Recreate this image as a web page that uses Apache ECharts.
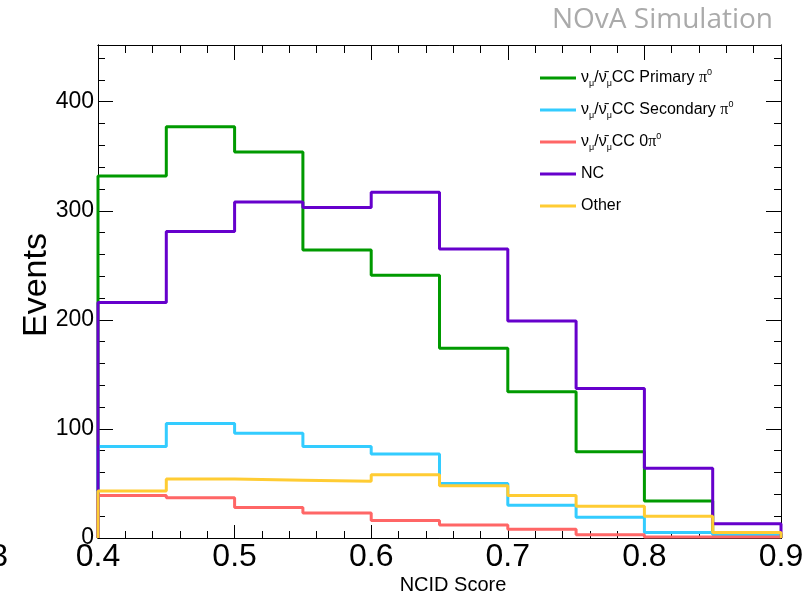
<!DOCTYPE html>
<html>
<head>
<meta charset="utf-8">
<script src="https://cdn.jsdelivr.net/npm/echarts@6/dist/echarts.min.js"></script>
<style>
  html, body { margin: 0; padding: 0; background: #fff; }
  #chart { width: 809px; height: 599px; }
</style>
</head>
<body>
<div id="chart"></div>
<script>
// Bin edges of the NCID score histogram (10 bins of width 0.05)
const binEdges = [0.40, 0.45, 0.50, 0.55, 0.60, 0.65, 0.70, 0.75, 0.80, 0.85, 0.90];

// Event counts per bin
const ccPrimaryPi0   = [332, 377, 354, 264, 241, 174, 134, 79, 34, 4];
const ccSecondaryPi0 = [84, 105, 96, 84, 77, 50, 30, 19, 5, 3];
const ccZeroPi0      = [39, 37, 28, 23, 16, 12, 8, 3, 1, 1];
const ncEvents       = [216, 281, 308, 303, 317, 265, 199, 137, 64, 13];
const otherEvents    = [43, 54, 53, 52, 58, 48, 39, 29, 20, 5];

const seriesNames  = ['primary', 'secondary', 'zero', 'nc', 'other'];
const seriesColors = ['#009a00', '#33ccff', '#ff6666', '#6600cc', '#ffcc33'];
const seriesValues = [ccPrimaryPi0, ccSecondaryPi0, ccZeroPi0, ncEvents, otherEvents];

// Axis ranges and tick spacing
const xMin = 0.4, xMax = 0.9, xMajor = 0.1, xMinor = 0.02;
const yMin = 0, yMax = 452, yMajor = 100, yMinor = 20;

const FONT = 'Liberation Sans';

// Legend labels with sub/superscripts (every row carries a sub token so rows share one height)
const legendLabels = {
  primary:   '{a|\u03bd}{s|\u03bc}{a|/\u03bd\u0304}{s|\u03bc}{a|CC Primary }{p|\u03c0}{u|0}',
  secondary: '{a|\u03bd}{s|\u03bc}{a|/\u03bd\u0304}{s|\u03bc}{a|CC Secondary }{p|\u03c0}{u|0}',
  zero:      '{a|\u03bd}{s|\u03bc}{a|/\u03bd\u0304}{s|\u03bc}{a|CC 0}{p|\u03c0}{u|0}',
  nc:        '{a|NC}{s| }{u| }',
  other:     '{a|Other}{s| }{u| }'
};

// Histogram outline: start and end at zero, one horizontal step per bin
function histPoints(values) {
  const pts = [[binEdges[0], 0]];
  values.forEach((v, i) => pts.push([binEdges[i], v]));
  pts.push([binEdges[binEdges.length - 1], values[values.length - 1]]);
  pts.push([binEdges[binEdges.length - 1], 0]);
  return pts;
}

const black = '#000';

function xAxisDef(position, interval, len, labels) {
  return {
    type: 'value', min: xMin, max: xMax, interval: interval, position: position,
    axisLine: { show: true, onZero: false, lineStyle: { color: black, width: 1 } },
    axisTick: { show: true, inside: true, length: len, lineStyle: { color: black, width: 1 } },
    axisLabel: labels ? {
      show: true, fontFamily: FONT, fontSize: 32, color: black, margin: 3,
      showMinLabel: true, showMaxLabel: true,
      formatter: v => v.toFixed(1)
    } : { show: false },
    splitLine: { show: false }
  };
}

function yAxisDef(position, interval, len, labels) {
  return {
    type: 'value', min: yMin, max: yMax, interval: interval, position: position,
    axisLine: { show: true, onZero: false, lineStyle: { color: black, width: 1 } },
    axisTick: { show: true, inside: true, length: len, lineStyle: { color: black, width: 1 } },
    axisLabel: labels ? {
      show: true, fontFamily: FONT, fontSize: 23, color: black, margin: 4,
      showMaxLabel: false,
      formatter: v => (Math.abs(v % yMajor) < 1e-6 ? String(v) : '')
    } : { show: false },
    splitLine: { show: false }
  };
}

const chart = echarts.init(document.getElementById('chart'), null, { renderer: 'canvas' });

chart.setOption({
  animation: false,
  backgroundColor: '#fff',
  grid: { left: 98, right: 28, top: 45, bottom: 61, containLabel: false },
  xAxis: [
    xAxisDef('bottom', xMajor, 13, true),
    xAxisDef('bottom', xMinor, 7, false),
    xAxisDef('top', xMajor, 15, false),
    xAxisDef('top', xMinor, 8, false)
  ],
  yAxis: [
    yAxisDef('left', yMajor, 15, true),
    yAxisDef('left', yMinor, 7, false),
    yAxisDef('right', yMajor, 15, false),
    yAxisDef('right', yMinor, 7, false)
  ],
  legend: {
    orient: 'vertical',
    left: 535, top: 63,
    itemWidth: 36, itemHeight: 3, itemGap: 12,
    icon: 'rect',
    data: seriesNames,
    formatter: name => legendLabels[name],
    textStyle: {
      rich: {
        a: { fontFamily: FONT, fontSize: 16, color: black, lineHeight: 20 },
        s: { fontFamily: FONT, fontSize: 9, color: black, lineHeight: 10, verticalAlign: 'bottom' },
        u: { fontFamily: FONT, fontSize: 9, color: black, lineHeight: 12, verticalAlign: 'top' },
        p: { fontFamily: 'Liberation Serif', fontSize: 16, color: black, lineHeight: 20 }
      }
    }
  },
  graphic: [
    {
      type: 'text', right: 36, top: 6,
      style: { text: 'NOvA Simulation', fontFamily: 'Open Sans', fontSize: 28, fill: '#aaaaaa' }
    },
    {
      type: 'text', x: 453, y: 585,
      style: { text: 'NCID Score', fontFamily: FONT, fontSize: 20, fill: black, align: 'center', verticalAlign: 'middle' }
    },
    {
      type: 'text', x: 37, y: 285, rotation: Math.PI / 2,
      style: { text: 'Events', fontFamily: FONT, fontSize: 34, fill: black, align: 'center', verticalAlign: 'middle' }
    },
    {
      type: 'text', x: 8, y: 557,
      style: { text: '0.3', fontFamily: FONT, fontSize: 32, fill: black, align: 'right', verticalAlign: 'middle' }
    }
  ],
  series: seriesNames.map((name, i) => ({
    name: name,
    type: 'line',
    step: 'end',
    xAxisIndex: 0,
    yAxisIndex: 0,
    symbol: 'none',
    clip: false,
    color: seriesColors[i],
    lineStyle: { color: seriesColors[i], width: 3 },
    data: histPoints(seriesValues[i])
  }))
});
</script>
</body>
</html>
